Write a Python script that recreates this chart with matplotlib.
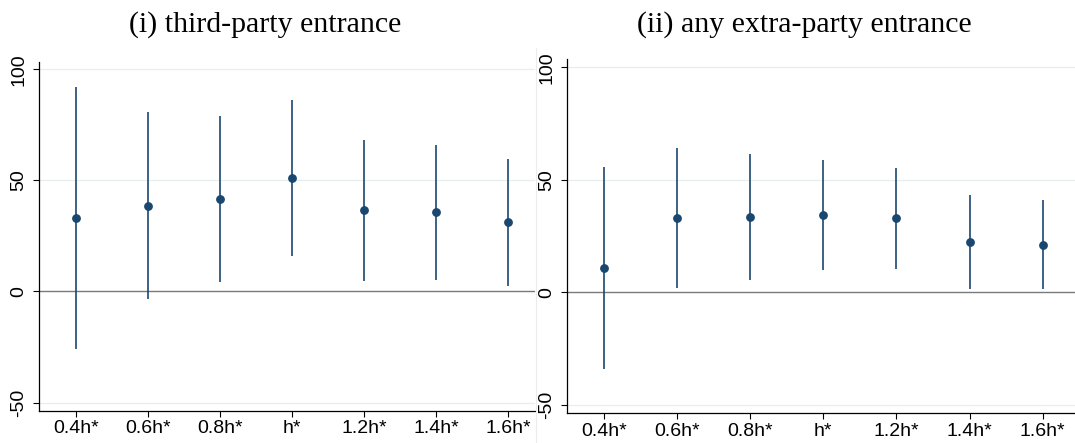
import matplotlib
matplotlib.use("Agg")
import matplotlib.pyplot as plt
from matplotlib.lines import Line2D
import numpy as np

bandwidths = ["0.4h*", "0.6h*", "0.8h*", "h*", "1.2h*", "1.4h*", "1.6h*"]

# (i) third-party entrance
third_est = [33.2, 38.6, 41.6, 50.9, 36.5, 35.6, 31.1]
third_lo = [-25.7, -3.5, 4.4, 15.9, 4.8, 5.4, 2.7]
third_hi = [91.9, 80.6, 79.0, 86.3, 68.0, 65.9, 59.5]

# (ii) any extra-party entrance
extra_est = [10.8, 33.0, 33.4, 34.2, 32.8, 22.2, 21.2]
extra_lo = [-34.3, 1.8, 5.6, 9.8, 10.4, 1.2, 1.5]
extra_hi = [55.9, 64.3, 61.4, 58.7, 55.3, 43.3, 41.1]

titles = ["(i) third-party entrance", "(ii) any extra-party entrance"]

navy = "#1a476f"
grid_col = "#e6eef0"

fig = plt.figure(figsize=(10.75, 4.43), dpi=100)
ax1 = fig.add_axes([0.0366, 0.0722, 0.4611, 0.7878])
ax2 = fig.add_axes([0.5277, 0.0670, 0.4723, 0.7991])

panels = [
    (ax1, third_est, third_lo, third_hi, (-0.51, 6.37), (-53.8, 103.3)),
    (ax2, extra_est, extra_lo, extra_hi, (-0.50, 6.44), (-53.9, 103.6)),
]

for ax, est, lo, hi, xl, yl in panels:
    x = np.arange(len(bandwidths))
    for y in [-50, 50, 100]:
        ax.axhline(y, color=grid_col, lw=0.9, zorder=0)
    ax.axhline(0, color="#7a7a7a", lw=1.0, zorder=1)
    ax.vlines(x, lo, hi, color=navy, lw=1.2, zorder=2)
    ax.plot(x, est, "o", color=navy, markersize=5.3, zorder=3)

    ax.set_xlim(*xl)
    ax.set_ylim(*yl)
    ax.set_xticks(x)
    ax.set_xticklabels(bandwidths)
    ax.set_yticks([-50, 0, 50, 100])
    ax.set_yticklabels(["-50", "0", "50", "100"], rotation=90, va="center")
    for lab in ax.get_xticklabels() + ax.get_yticklabels():
        lab.set_family("Liberation Sans")
        lab.set_fontsize(14)
    ax.tick_params(axis="both", length=4.3, width=0.8, color="black")
    ax.tick_params(axis="x", pad=2.5)
    ax.tick_params(axis="y", pad=4.5)
    ax.spines["top"].set_visible(False)
    ax.spines["right"].set_visible(False)
    for s in ["left", "bottom"]:
        ax.spines[s].set_linewidth(0.9)

# faint border between the two graph regions
fig.add_artist(Line2D([535.5 / 1075, 535.5 / 1075], [0, (443 - 48) / 443],
                      color="#ececec", lw=0.8))

fig.text(265 / 1075, (443 - 31.7) / 443, titles[0], ha="center", va="baseline",
         family="Liberation Serif", fontsize=21.5)
fig.text(804 / 1075, (443 - 31.7) / 443, titles[1], ha="center", va="baseline",
         family="Liberation Serif", fontsize=21.5)

fig.savefig("out.png", dpi=100)
